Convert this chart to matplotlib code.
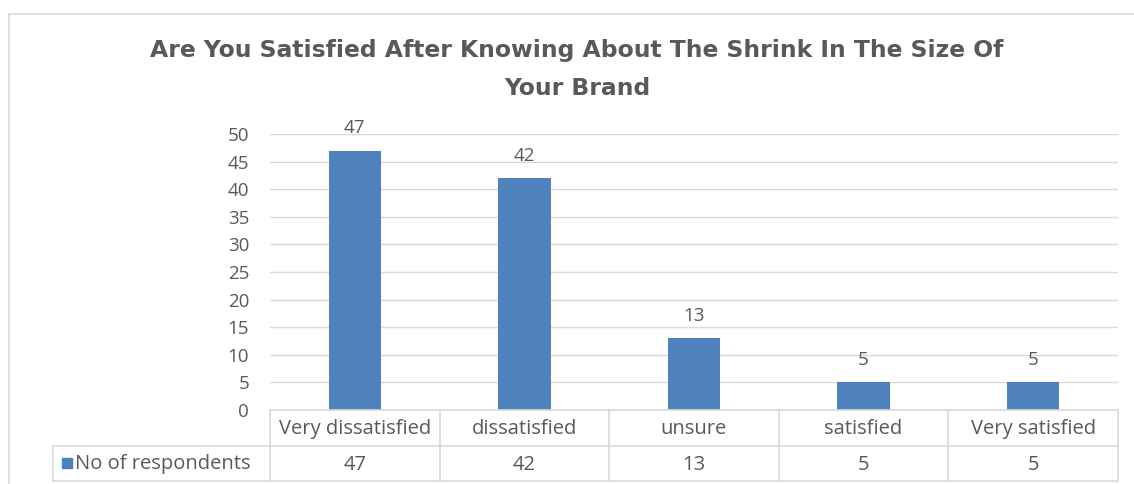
import matplotlib
matplotlib.use("Agg")
import matplotlib.pyplot as plt
from matplotlib.patches import Rectangle
from matplotlib.lines import Line2D

categories = ["Very dissatisfied", "dissatisfied", "unsure", "satisfied", "Very satisfied"]
respondents = [47, 42, 13, 5, 5]
series_name = "No of respondents"
title = "Are You Satisfied After Knowing About The Shrink In The Size Of\nYour Brand"
y_ticks = [0, 5, 10, 15, 20, 25, 30, 35, 40, 45, 50]

W, H = 1134, 484
BAR = "#4f81bd"
GRID = "#d9d9d9"
TXT = "#595959"
FONT = "Open Sans"

fig = plt.figure(figsize=(W / 100, H / 100), dpi=100)


def fx(px):
    return px / W


def fy(py):
    return 1 - py / H


# outer chart frame
fig.add_artist(Rectangle((fx(9), fy(500)), fx(1200), fy(14) - fy(500),
                         transform=fig.transFigure, fill=False,
                         edgecolor="#d9d9d9", linewidth=1.2))

title_lines = title.split("\n")
fig.text(fx(577), fy(50), title_lines[0], ha="center", va="center",
         fontsize=16.9, fontweight="bold", color=TXT, family="DejaVu Sans")
fig.text(fx(577), fy(88), title_lines[1], ha="center", va="center",
         fontsize=16.9, fontweight="bold", color=TXT, family="DejaVu Sans")

# plot area
left, right, top, bottom = 270, 1118, 134, 410
ax = fig.add_axes([fx(left), fy(bottom), fx(right - left), fy(top) - fy(bottom)])
x = list(range(len(categories)))
ax.bar(x, respondents, width=0.31, color=BAR, zorder=3)
ax.set_xlim(-0.5, len(categories) - 0.5)
ax.set_ylim(0, 50)
ax.set_yticks(y_ticks)
ax.set_yticklabels([str(t) for t in y_ticks], fontsize=13.5, color=TXT, family=FONT)
ax.tick_params(axis="y", length=0, pad=15)
ax.set_xticks([])
for s in ax.spines.values():
    s.set_visible(False)
ax.yaxis.grid(True, color=GRID, linewidth=1)
ax.set_axisbelow(True)
for xi, v in zip(x, respondents):
    ax.annotate(str(v), (xi, v), xytext=(0, 9.5), textcoords="offset points",
                ha="center", va="bottom", fontsize=13.5, color=TXT, family=FONT)

# data table below the plot area
tl, tr, t0, t1, t2 = 53, 1118, 410, 446, 481
tax = fig.add_axes([fx(tl), fy(t2), fx(tr - tl), fy(t0) - fy(t2)])
unit = (right - left) / len(categories)
tax.set_xlim(-0.5 - (left - tl) / unit, len(categories) - 0.5)
tax.set_ylim(t2, t0)
tax.axis("off")
lk = dict(color=GRID, linewidth=1.2, clip_on=False)
x0 = tax.get_xlim()[0]
tax.add_line(Line2D([-0.5, len(categories) - 0.5], [t0, t0], **lk))
tax.add_line(Line2D([x0, len(categories) - 0.5], [t1, t1], **lk))
tax.add_line(Line2D([x0, len(categories) - 0.5], [t2, t2], **lk))
tax.add_line(Line2D([x0] * 2, [t1, t2], **lk))
for i in range(len(categories) + 1):
    tax.add_line(Line2D([i - 0.5] * 2, [t0, t2], **lk))
for xi, c, v in zip(x, categories, respondents):
    tax.text(xi, (t0 + t1) / 2 + 1, c, ha="center", va="center", fontsize=14.5,
             color=TXT, family=FONT)
    tax.text(xi, (t1 + t2) / 2 + 1, str(v), ha="center", va="center", fontsize=14.5,
             color=TXT, family=FONT)
tax.add_patch(Rectangle((x0 + 9 / unit, 458), 10 / unit, 10, color=BAR, clip_on=False))
tax.text(x0 + 22 / unit, (t1 + t2) / 2 + 1, series_name, ha="left", va="center",
         fontsize=14.5, color=TXT, family=FONT)

fig.savefig("out.png", dpi=100, facecolor="white")
